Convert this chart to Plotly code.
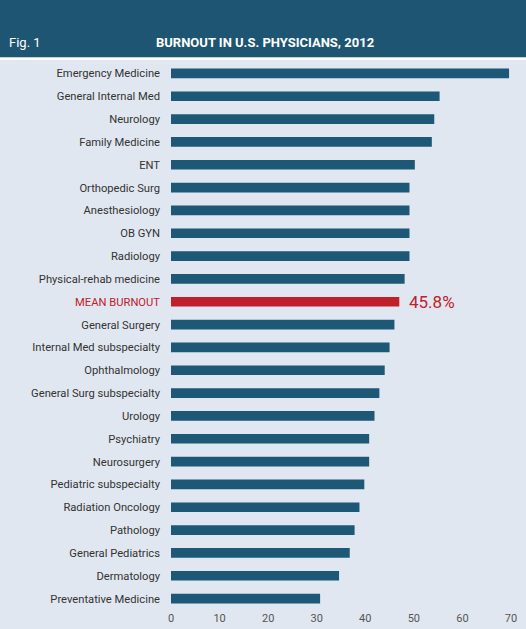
import plotly.graph_objects as go

categories = [
    "Emergency Medicine", "General Internal Med", "Neurology", "Family Medicine", "ENT",
    "Orthopedic Surg", "Anesthesiology", "OB GYN", "Radiology", "Physical-rehab medicine",
    "MEAN BURNOUT", "General Surgery", "Internal Med subspecialty", "Ophthalmology",
    "General Surg subspecialty", "Urology", "Psychiatry", "Neurosurgery",
    "Pediatric subspecialty", "Radiation Oncology", "Pathology", "General Pediatrics",
    "Dermatology", "Preventative Medicine",
]
values = [69.6, 55.3, 54.2, 53.7, 50.2, 49.1, 49.1, 49.1, 49.1, 48.1,
          47.0, 46.0, 45.0, 44.0, 42.9, 41.9, 40.8, 40.8, 39.8, 38.8, 37.8, 36.8, 34.6, 30.7]
mean_label = "45.8%"
x_ticks = [0, 10, 20, 30, 40, 50, 60, 70]
title = "BURNOUT IN U.S. PHYSICIANS, 2012"
fig_label = "Fig. 1"

BLUE = "#1d5877"
RED = "#c1202b"
BG = "#e1e7f0"
HEADER = "#1e5573"
FONT = "Roboto, Liberation Sans, sans-serif"

W, H = 526, 629
ML, MR, MT, MB = 171, 15, 62, 19
PH = H - MT - MB

colors = [RED if c == "MEAN BURNOUT" else BLUE for c in categories]
ticktext = [f"<span style='color:{RED}'>{c}</span>" if c == "MEAN BURNOUT" else c for c in categories]

fig = go.Figure(go.Bar(
    x=values, y=categories, orientation="h",
    marker=dict(color=colors, line=dict(width=0)),
    width=0.42, hoverinfo="x+y",
))

mean_val = values[categories.index("MEAN BURNOUT")]
fig.add_annotation(x=mean_val, y="MEAN BURNOUT", text=mean_label, showarrow=False,
                   xanchor="left", xshift=8, font=dict(color=RED, size=17, family=FONT))

# header band and white separator line
fig.add_shape(type="rect", xref="paper", yref="paper", x0=-1, x1=2, y0=1 + 4.5 / PH, y1=2,
              fillcolor=HEADER, line=dict(width=0), layer="above")
fig.add_shape(type="rect", xref="paper", yref="paper", x0=-1, x1=2, y0=1 + 2 / PH, y1=1 + 4.5 / PH,
              fillcolor="white", line=dict(width=0), layer="above")
fig.add_annotation(xref="paper", yref="paper", x=-0.483, y=1, yshift=20, text=fig_label,
                   showarrow=False, xanchor="left", yanchor="middle",
                   font=dict(color="white", size=13, family=FONT))
fig.add_annotation(xref="paper", yref="paper", x=0.275, y=1, yshift=20, text=f"<b>{title}</b>",
                   showarrow=False, xanchor="center", yanchor="middle",
                   font=dict(color="white", size=13, family=FONT))

fig.update_layout(
    width=W, height=H,
    margin=dict(l=ML, r=MR, t=MT, b=MB, pad=0, autoexpand=False),
    paper_bgcolor=BG, plot_bgcolor=BG,
    showlegend=False,
    font=dict(family=FONT, color="#333333", size=11),
    xaxis=dict(range=[0, 70], tickvals=x_ticks, showgrid=False, zeroline=False,
               showline=False, ticks="", tickfont=dict(size=11, color="#555555"),
               fixedrange=True, automargin=False),
    yaxis=dict(categoryorder="array", categoryarray=categories, autorange="reversed",
               tickvals=categories, ticktext=ticktext, showgrid=False, zeroline=False,
               showline=False, ticks="", ticklabelstandoff=10, automargin=False,
               tickfont=dict(size=11.2, color="#333333")),
)

fig.write_html("out.html", config={"displayModeBar": False},
               post_script="document.body.style.margin='0';document.body.style.overflow='hidden';")
